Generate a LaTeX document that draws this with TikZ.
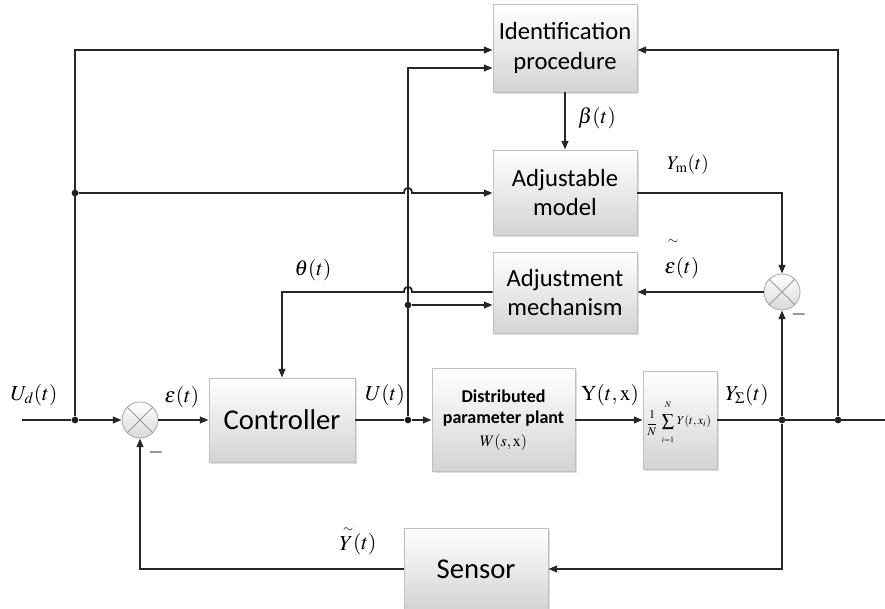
\documentclass[tikz,border=0pt]{standalone}
\usepackage{mathptmx}
\usepackage{fontspec}
\setmainfont{Liberation Serif}
\newfontfamily\boxfont{Carlito}
\usetikzlibrary{arrows.meta,shadows}
\begin{document}
\begin{tikzpicture}[x=0.75pt,y=-0.75pt,
  wire/.style={line width=1.35pt, draw=black!85},
  arr/.style={-{Triangle[length=6.5pt,width=5pt]}},
  blk/.style={draw=black!25, line width=0.6pt, top color=white, bottom color=black!17,
    drop shadow={shadow xshift=1.2pt,shadow yshift=-1.2pt,opacity=0.25},
    align=center, inner sep=0pt, text=black},
  sumc/.style={circle, draw=black!35, line width=0.6pt, top color=white, bottom color=black!15,
    minimum size=27pt, inner sep=0pt},
  cross/.style={line width=0.6pt, draw=black!40},
  lbl/.style={font=\fontsize{16}{18}\selectfont, text=black},
  avgtxt/.style={inner sep=0pt, text=black},
  dot/.style={circle, fill=black!90, inner sep=0pt, minimum size=5pt},
  minus/.style={font=\fontsize{15}{15}\selectfont, text=black}
]
\clip (0,0) rectangle (885,609);
\fill[white] (0,0) rectangle (885,609);

% blocks
\node[blk, minimum width=108pt, minimum height=66pt, font=\boxfont\fontsize{18.5}{22}\selectfont] (id) at (565,48) {Identification\\procedure};
\node[blk, minimum width=108pt, minimum height=63.75pt, font=\boxfont\fontsize{18.5}{22}\selectfont] (model) at (565,192.5) {Adjustable\\model};
\node[blk, minimum width=108pt, minimum height=60.75pt, font=\boxfont\fontsize{18.5}{22}\selectfont] (mech) at (565,292.5) {Adjustment\\mechanism};
\node[blk, minimum width=109.5pt, minimum height=63pt, font=\boxfont\fontsize{21.5}{24}\selectfont] (ctrl) at (282,420) {Controller};
\node[blk, minimum width=107.25pt, minimum height=77.25pt, font=\boxfont\bfseries\fontsize{13.5}{16}\selectfont] (plant) at (503.5,420) {Distributed\\parameter plant\\[1pt]{\normalfont\fontsize{12}{14}\selectfont$W(s,\mathrm{x})$}};
\node[blk, minimum width=55.5pt, minimum height=73.5pt] (avg) at (680,420) {};
\node[blk, minimum width=108pt, minimum height=61.5pt, font=\boxfont\fontsize{21.5}{24}\selectfont] (sensor) at (476,569) {Sensor};

% averaging formula
\node[avgtxt, font=\fontsize{9}{10}\selectfont] (afrac) at (652,423) {$\displaystyle\frac{1}{N}$};
\node[avgtxt, font=\fontsize{9}{10}\selectfont] (asig) at (668,422) {$\displaystyle\sum$};
\node[avgtxt, font=\fontsize{6.5}{7}\selectfont] (asup) at (668,405) {$N$};
\node[avgtxt, font=\fontsize{6}{7}\selectfont] (asub) at (668,440) {$i{=}1$};
\node[avgtxt, font=\fontsize{9}{10}\selectfont] (ay) at (694,422) {$Y(t,x_i)$};

% summing junctions
\node[sumc] (sum) at (140,420) {};
\draw[cross] (sum.north west) -- (sum.south east) (sum.north east) -- (sum.south west);
\node[sumc] (cmp) at (782,292) {};
\draw[cross] (cmp.north west) -- (cmp.south east) (cmp.north east) -- (cmp.south west);

% helper coordinates
\coordinate (in) at (22,420);
\coordinate (out) at (885,420);
\coordinate (yA) at (0,50);
\coordinate (yB) at (0,68);
\coordinate (yM) at (0,193);
\coordinate (yT) at (0,292);
\coordinate (yS) at (0,305);
\coordinate (yF) at (0,569);
\coordinate (hMa) at (404,193);
\coordinate (hMb) at (412,193);
\coordinate (hTa) at (412,292);
\coordinate (hTb) at (404,292);
\coordinate (tc) at (282,292);

% junction dots
\node[dot] (j1) at (75,420) {};
\node[dot] (j2) at (75,193) {};
\node[dot] (j3) at (408,420) {};
\node[dot] (j4) at (408,305) {};
\node[dot] (j5) at (782,420) {};
\node[dot] (j6) at (838,420) {};

% connectors
\draw[wire] (in) -- (j1);
\draw[wire,arr] (j1) -- (sum.west);
\draw[wire,arr] (j1) |- (id.west |- yA);
\draw[wire,arr] (j2) -- (hMa) .. controls (404,186) and (412,186) .. (hMb) -- (model.west |- yM);
\draw[wire,arr] (sum.east) -- (ctrl.west);
\draw[wire] (ctrl.east) -- (j3);
\draw[wire,arr] (j3) -- (plant.west);
\draw[wire,arr] (j3) |- (id.west |- yB);
\draw[wire,arr] (j4) -- (mech.west |- yS);
\draw[wire,arr] (plant.east) -- (avg.west);
\draw[wire] (avg.east) -- (out);
\draw[wire,arr] (j6) |- (id.east |- yA);
\draw[wire,arr] (j5) -- (cmp.south);
\draw[wire,arr] (j5) |- (sensor.east |- yF);
\draw[wire,arr] (sensor.west |- yF) -| (sum.south);
\draw[wire,arr] (model.east |- yM) -| (cmp.north);
\draw[wire,arr] (cmp.west) -- (mech.east |- yT);
\draw[wire,arr] (mech.west |- yT) -- (hTa) .. controls (412,285) and (404,285) .. (hTb) -- (tc) -- (ctrl.north);
\draw[wire,arr] (id.south) -- (model.north);

% labels
\node[lbl] (lUd) at (34,395) {$U_d(t)$};
\node[lbl] (leps) at (182,397) {$\epsilon(t)$};
\node[lbl] (lU) at (385,395) {$U(t)$};
\node[lbl] (lY) at (610,395) {$\mathrm{Y}(t,\mathrm{x})$};
\node[lbl] (lYs) at (747,395) {$Y_{\Sigma}(t)$};
\node[lbl] (lbeta) at (597,118) {$\beta(t)$};
\node[lbl, font=\fontsize{14.5}{16}\selectfont] (lYm) at (688,165) {$Y_{\mathrm{m}}(t)$};
\node[lbl] (letil) at (682,268) {$\epsilon(t)$};
\node[lbl, font=\fontsize{10}{10}\selectfont] (letilde) at (673,242) {$\sim$};
\node[lbl] (ltheta) at (313,270) {$\theta(t)$};
\node[lbl] (lYt) at (358,540) {$\mathord{\stackrel{\scriptscriptstyle\sim}{Y}}(t)$};
\node[minus] (m1) at (156,452) {$-$};
\node[minus] (m2) at (799,315) {$-$};
\end{tikzpicture}
\end{document}
